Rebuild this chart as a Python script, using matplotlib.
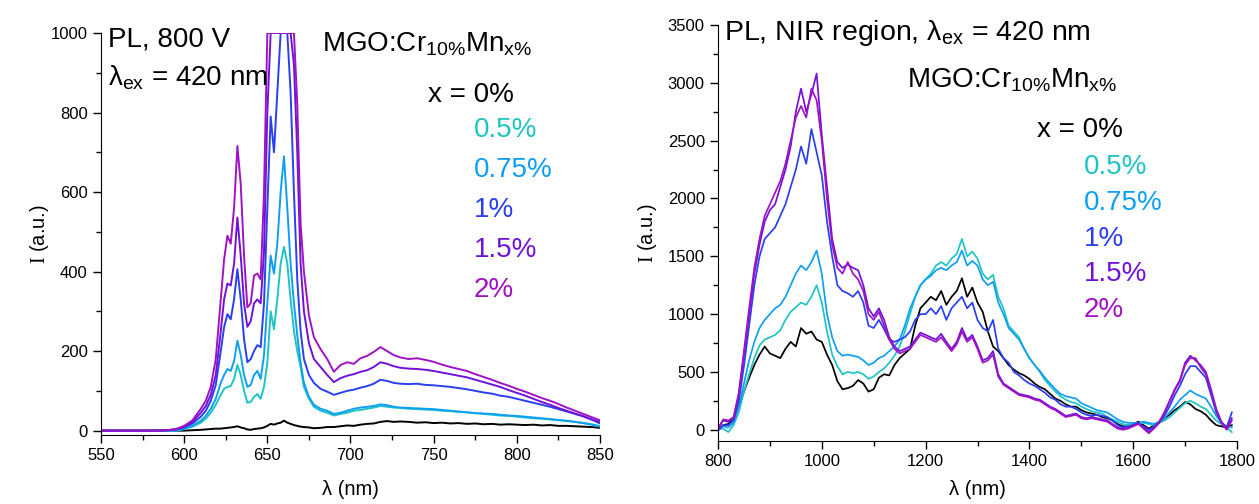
import matplotlib
matplotlib.use("Agg")
import matplotlib.pyplot as plt
from matplotlib.ticker import MultipleLocator

plt.rcParams['font.family'] = ['Liberation Sans', 'DejaVu Sans']
plt.rcParams['mathtext.fontset'] = 'custom'
plt.rcParams['mathtext.rm'] = 'Liberation Serif'
plt.rcParams['mathtext.sf'] = 'Liberation Sans'
plt.rcParams['mathtext.it'] = 'Liberation Sans'

# ---------------- data ----------------
labels = ["x = 0%", "0.5%", "0.75%", "1%", "1.5%", "2%"]
colors = ["#000000", "#1ec4c4", "#0f9ff2", "#2a3ff0", "#7012d8", "#a012c4"]

# Left panel: visible region, 800 V
wl_vis = [550, 580, 590, 595, 600, 605, 610, 613, 616, 619, 622, 624, 626, 628, 630,
          632, 634, 636, 638, 640, 642, 644, 646, 648, 650, 652, 654, 656, 658, 660,
          662, 664, 666, 668, 670, 672, 675, 678, 682, 686, 690, 694, 698, 702, 706,
          710, 714, 718, 722, 726, 730, 735, 740, 745, 750, 755, 760, 765, 770, 775,
          780, 785, 790, 795, 800, 805, 810, 815, 820, 825, 830, 835, 840, 845, 850]

vis_0 = [0, 0, 0, 0, 0, 1, 2, 3, 4, 5, 5, 6, 7, 8, 9,
         11, 8, 6, 3, 2, 4, 5, 6, 8, 12, 17, 15, 18, 20, 25,
         20, 17, 14, 12, 10, 9, 8, 6, 7, 9, 9, 11, 13, 12, 15,
         17, 18, 22, 24, 22, 23, 22, 20, 21, 19, 20, 18, 19, 17, 18,
         16, 17, 15, 16, 15, 14, 15, 13, 14, 12, 12, 11, 10, 9, 7]
vis_05 = [0, 0, 0, 0, 4, 10, 20, 30, 45, 65, 90, 105, 110, 112, 130,
          165, 140, 100, 70, 72, 85, 92, 80, 110, 170, 300, 255, 330, 420, 462,
          420, 330, 250, 200, 160, 110, 80, 60, 50, 45, 38, 42, 45, 50, 52,
          55, 58, 62, 60, 58, 57, 55, 54, 53, 52, 50, 49, 47, 46, 44,
          42, 40, 38, 37, 35, 33, 31, 30, 28, 26, 24, 22, 19, 16, 11]
vis_075 = [0, 0, 0, 0, 5, 12, 25, 37, 55, 80, 120, 140, 155, 150, 175,
           226, 190, 140, 110, 115, 140, 150, 130, 190, 320, 440, 395, 470, 600, 690,
           560, 420, 320, 240, 170, 120, 85, 65, 55, 50, 42, 45, 50, 55, 58,
           60, 62, 66, 64, 60, 58, 57, 56, 55, 54, 52, 50, 48, 46, 44,
           43, 42, 40, 38, 37, 35, 33, 31, 29, 27, 25, 22, 19, 15, 10]
vis_1 = [0, 0, 1, 3, 8, 18, 35, 50, 75, 115, 200, 260, 293, 280, 330,
         406, 330, 230, 172, 180, 200, 215, 210, 320, 560, 790, 700, 850, 1000, 1000,
         1000, 850, 600, 380, 250, 180, 140, 120, 105, 98, 90, 95, 100, 103, 108,
         112, 118, 128, 125, 120, 118, 117, 118, 115, 114, 112, 110, 107, 104, 100,
         96, 93, 88, 85, 80, 75, 70, 65, 60, 54, 48, 42, 36, 28, 18]
vis_15 = [0, 0, 1, 3, 10, 22, 45, 62, 90, 140, 250, 330, 370, 365, 420,
          536, 440, 320, 261, 275, 320, 330, 320, 450, 800, 1000, 1000, 1000, 1000, 1000,
          1000, 1000, 920, 700, 420, 300, 220, 180, 160, 140, 122, 132, 138, 142, 148,
          152, 160, 172, 168, 162, 158, 156, 155, 153, 150, 146, 142, 138, 134, 128,
          122, 116, 110, 102, 95, 88, 80, 72, 65, 57, 50, 43, 36, 28, 22]
vis_2 = [0, 0, 1, 4, 12, 26, 55, 75, 110, 180, 330, 430, 490, 470, 560,
         716, 620, 440, 310, 320, 390, 395, 380, 600, 1000, 1000, 1000, 1000, 1000, 1000,
         1000, 1000, 1000, 820, 520, 400, 290, 235, 205, 180, 148, 165, 172, 168, 182,
         188, 198, 210, 200, 190, 184, 180, 182, 178, 173, 166, 160, 155, 150, 142,
         135, 128, 120, 113, 105, 98, 90, 82, 75, 67, 58, 50, 42, 34, 26]

# Right panel: NIR region
wl_nir = list(range(800, 1800, 10))

nir_0 = [0, 40, 50, 100, 200, 330, 450, 560, 650, 720, 660, 640, 620, 700, 760, 720, 880, 830, 850, 780,
         760, 650, 560, 420, 350, 360, 380, 430, 400, 330, 350, 450, 480, 470, 560, 620, 660, 700, 900, 1050,
         1100, 1150, 1120, 1200, 1080, 1150, 1200, 1310, 1150, 1230, 1100, 1020, 850, 720, 680, 620, 560, 520, 490, 470,
         440, 400, 370, 350, 310, 270, 250, 220, 200, 200, 170, 150, 140, 130, 110, 100, 80, 50, 30, 30,
         50, 70, 40, 10, 40, 60, 100, 130, 170, 200, 240, 220, 180, 160, 130, 80, 40, 30, 20, 40]
nir_05 = [10, 10, -20, 40, 150, 330, 480, 620, 730, 780, 800, 820, 860, 950, 1020, 1060, 1100, 1080, 1150, 1250,
          1100, 850, 650, 550, 480, 500, 490, 500, 480, 440, 460, 500, 530, 580, 640, 720, 850, 1000, 1150, 1250,
          1300, 1350, 1420, 1450, 1420, 1480, 1520, 1650, 1500, 1540, 1480, 1350, 1300, 1340, 1150, 1050, 900, 850, 800, 700,
          620, 560, 500, 430, 380, 330, 290, 260, 240, 230, 200, 180, 160, 150, 140, 110, 90, 70, 50, 40,
          50, 50, 60, 50, 40, 60, 80, 110, 150, 190, 230, 250, 230, 200, 180, 130, 80, 50, 20, -20]
nir_075 = [20, 30, 20, 60, 200, 400, 600, 760, 880, 950, 1000, 1050, 1080, 1150, 1250, 1350, 1420, 1380, 1450, 1550,
           1350, 1000, 800, 680, 640, 650, 640, 630, 600, 560, 580, 620, 640, 680, 720, 780, 900, 1050, 1150, 1250,
           1300, 1330, 1380, 1400, 1380, 1420, 1450, 1550, 1420, 1460, 1420, 1300, 1250, 1280, 1100, 1000, 880, 830, 780, 700,
           620, 560, 510, 450, 400, 350, 310, 290, 280, 270, 230, 210, 190, 170, 160, 150, 120, 90, 70, 60,
           60, 60, 70, 60, 50, 70, 100, 150, 200, 260, 300, 340, 310, 290, 270, 200, 120, 60, 30, 20]
nir_1 = [-10, 40, 40, 80, 250, 550, 900, 1250, 1500, 1650, 1700, 1750, 1850, 1950, 2100, 2250, 2450, 2300, 2600, 2400,
         2200, 1800, 1500, 1250, 1200, 1180, 1150, 1200, 1100, 900, 880, 950, 870, 780, 760, 780, 800, 850, 950, 1000,
         1000, 1050, 1000, 1070, 950, 1050, 1100, 1150, 1050, 1100, 950, 880, 850, 950, 700, 620, 580, 500, 470, 430,
         400, 380, 350, 320, 280, 260, 220, 200, 200, 180, 150, 130, 120, 130, 120, 110, 80, 40, 20, 30,
         40, 50, 30, 0, 30, 60, 120, 200, 300, 380, 480, 550, 550, 500, 450, 300, 150, 60, 20, 150]
nir_15 = [20, 80, 70, 100, 300, 650, 1000, 1350, 1600, 1800, 1900, 1950, 2100, 2250, 2450, 2750, 2950, 2750, 2900, 3080,
          2550, 2100, 1650, 1450, 1400, 1430, 1400, 1380, 1250, 1050, 980, 1050, 950, 800, 720, 680, 700, 720, 780, 840,
          820, 800, 780, 830, 760, 700, 760, 880, 780, 820, 720, 600, 620, 680, 480, 400, 370, 340, 310, 300,
          290, 270, 260, 230, 200, 180, 150, 120, 130, 140, 110, 100, 110, 100, 90, 80, 50, 20, 10, 20,
          40, 60, 20, -20, 20, 70, 150, 250, 350, 430, 580, 640, 600, 560, 500, 350, 180, 70, 10, 100]
nir_2 = [0, 90, 80, 110, 320, 680, 1050, 1400, 1650, 1850, 1950, 2050, 2150, 2300, 2500, 2700, 2800, 2700, 2950, 2850,
         2500, 2000, 1600, 1400, 1350, 1450, 1350, 1300, 1200, 1000, 950, 1020, 900, 780, 700, 660, 680, 700, 760, 820,
         800, 780, 760, 800, 740, 680, 740, 850, 760, 800, 700, 580, 600, 650, 460, 390, 360, 330, 300, 290,
         280, 260, 250, 220, 190, 170, 140, 110, 120, 130, 100, 90, 100, 90, 80, 70, 40, 10, 0, 10,
         30, 50, 10, -30, 10, 60, 140, 240, 340, 420, 560, 620, 620, 540, 480, 330, 170, 60, 0, 80]

vis_series = [vis_0, vis_05, vis_075, vis_1, vis_15, vis_2]
nir_series = [nir_0, nir_05, nir_075, nir_1, nir_15, nir_2]

# ---------------- figure ----------------
W, H = 1259, 504
fig = plt.figure(figsize=(W / 100, H / 100), dpi=100)

def px_axes(x0, y0, x1, y1):
    return fig.add_axes([x0 / W, 1 - y1 / H, (x1 - x0) / W, (y1 - y0) / H])

ax1 = px_axes(101, 33, 600, 435)
ax2 = px_axes(718, 25, 1237, 441)

for ax in (ax1, ax2):
    for s in ("top", "right"):
        ax.spines[s].set_visible(False)
    ax.tick_params(which="major", direction="out", length=6, width=1, labelsize=12)
    ax.tick_params(which="minor", direction="out", length=3.5, width=1)

for ys, c in zip(vis_series, colors):
    ax1.plot(wl_vis, ys, color=c, lw=1.4)
ax1.set_xlim(550, 850)
ax1.set_ylim(-11, 1000)
ax1.xaxis.set_major_locator(MultipleLocator(50))
ax1.xaxis.set_minor_locator(MultipleLocator(25))
ax1.yaxis.set_major_locator(MultipleLocator(200))
ax1.yaxis.set_minor_locator(MultipleLocator(100))
ax1.set_xlabel("λ (nm)", fontsize=14.5, labelpad=12)
ax1.set_ylabel(r"$\mathrm{I}$ (a.u.)", fontsize=14.5, labelpad=0)

for ys, c in zip(nir_series, colors):
    ax2.plot(wl_nir, ys, color=c, lw=1.25)
ax2.set_xlim(800, 1800)
ax2.set_ylim(-97, 3500)
ax2.xaxis.set_major_locator(MultipleLocator(200))
ax2.xaxis.set_minor_locator(MultipleLocator(100))
ax2.yaxis.set_major_locator(MultipleLocator(500))
ax2.yaxis.set_minor_locator(MultipleLocator(250))
ax2.set_xlabel("λ (nm)", fontsize=14.5, labelpad=8)
ax2.set_ylabel(r"$\mathrm{I}$ (a.u.)", fontsize=14.5, labelpad=6)

def ftext(x, y, s, **kw):
    fig.text(x / W, 1 - y / H, s, va="center", ha="left", **kw)

big = 20
# left annotations
ftext(108, 40, "PL, 800 V", fontsize=big)
ftext(108, 78, r"λ$_{\mathsf{ex}}$ = 420 nm", fontsize=big)
ftext(322, 44, r"MGO:Cr$_{\mathsf{10\%}}$Mn$_{\mathsf{x\%}}$", fontsize=big)
ftext(428, 95, labels[0], fontsize=big, color=colors[0])
lyv = [130, 170, 210, 250, 290]
for lab, c, y in zip(labels[1:], colors[1:], lyv):
    ftext(474, y, lab, fontsize=big, color=c)

# right annotations
ftext(724, 33, r"PL, NIR region, λ$_{\mathsf{ex}}$ = 420 nm", fontsize=20.5)
ftext(907, 80, r"MGO:Cr$_{\mathsf{10\%}}$Mn$_{\mathsf{x\%}}$", fontsize=big)
ftext(1037, 130, labels[0], fontsize=big, color=colors[0])
ryv = [167, 203, 239, 274, 310]
for lab, c, y in zip(labels[1:], colors[1:], ryv):
    ftext(1084, y, lab, fontsize=big, color=c)

fig.savefig("out.png", dpi=100)
